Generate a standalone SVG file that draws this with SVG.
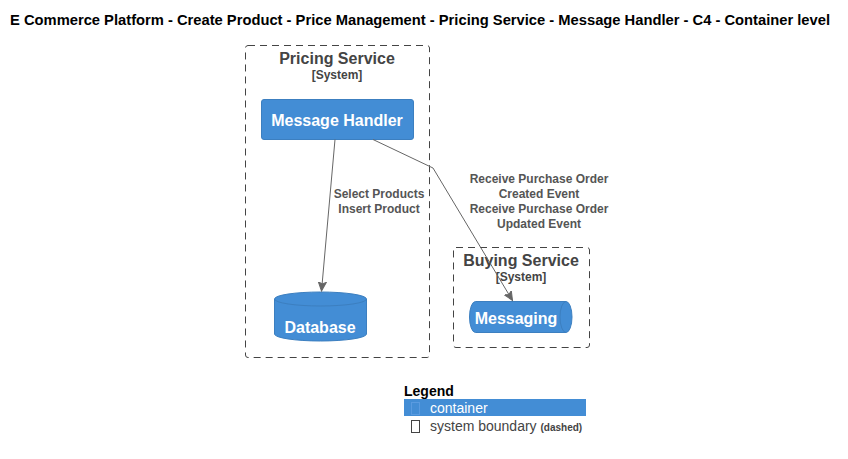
<svg xmlns="http://www.w3.org/2000/svg" width="848" height="459" viewBox="0 0 848 459">
<style>
text{font-family:"Liberation Sans",Arial,sans-serif}
.title{font-size:14px;font-weight:bold;fill:#000}
.bname{font-size:16px;font-weight:bold;fill:#444;text-anchor:middle}
.btype{font-size:12px;font-weight:bold;fill:#444;text-anchor:middle}
.boundary{fill:none;stroke:#444;stroke-width:1;stroke-dasharray:7,5}
.cont{fill:#438DD5;stroke:#3C7FC0;stroke-width:1}
.cname{font-size:16px;font-weight:bold;fill:#fff;text-anchor:middle}
.lbl{font-size:12px;font-weight:bold;fill:#555;text-anchor:middle}
.conn{fill:none;stroke:#666;stroke-width:1}
</style>
<defs>
<marker id="arr" markerWidth="10" markerHeight="10" refX="9" refY="5" orient="auto" markerUnits="userSpaceOnUse">
<path d="M0,1 L9,5 L0,9 L2,5 Z" fill="#666" stroke="#666"/>
</marker>
</defs>
<rect width="848" height="459" fill="#fff"/>
<text class="title" x="10" y="25" textLength="820" lengthAdjust="spacingAndGlyphs">E Commerce Platform - Create Product - Price Management - Pricing Service - Message Handler - C4 - Container level</text>

<g id="pricing-service">
<rect class="boundary" x="245.5" y="45.5" width="184" height="312" rx="2.5"/>
<text class="bname" x="337" y="64">Pricing Service</text>
<text class="btype" x="337" y="79">[System]</text>
</g>

<g id="message-handler">
<rect class="cont" x="261.5" y="99.5" width="152" height="40" rx="2.5"/>
<text class="cname" x="337" y="126">Message Handler</text>
</g>

<g id="database">
<path class="cont" d="M274.5,299 A46,7 0 0 1 366.5,299 L366.5,334 A46,7 0 0 1 274.5,334 Z"/>
<path d="M274.5,299 A46,7 0 0 0 366.5,299" fill="none" stroke="#3C7FC0"/>
<text class="cname" x="320" y="333">Database</text>
</g>

<g id="buying-service">
<rect class="boundary" x="453.5" y="247.5" width="136" height="100" rx="2.5"/>
<text class="bname" x="521" y="266">Buying Service</text>
<text class="btype" x="521" y="281">[System]</text>
</g>

<g id="messaging">
<path class="cont" d="M475.5,301.5 L566,301.5 A6,15.5 0 0 1 566,332.5 L475.5,332.5 A6,15.5 0 0 1 475.5,301.5 Z"/>
<path d="M566,301.5 A6,15.5 0 0 0 566,332.5" fill="none" stroke="#3C7FC0"/>
<text class="cname" x="516" y="324">Messaging</text>
</g>

<g id="connectors">
<path class="conn" d="M335,139.5 L321.5,291" marker-end="url(#arr)"/>
<text class="lbl" x="379" y="198">Select Products</text>
<text class="lbl" x="379" y="213">Insert Product</text>
<path class="conn" d="M373,139.5 L433,168 L512.5,300.5" marker-end="url(#arr)"/>
<text class="lbl" x="539" y="183">Receive Purchase Order</text>
<text class="lbl" x="539" y="198">Created Event</text>
<text class="lbl" x="539" y="213">Receive Purchase Order</text>
<text class="lbl" x="539" y="228">Updated Event</text>
</g>

<g id="legend">
<text x="404" y="396" style="font-size:14px;font-weight:bold;fill:#000">Legend</text>
<rect x="404" y="399" width="182" height="17" fill="#438DD5"/>
<rect x="411.5" y="402.5" width="8" height="12" fill="none" stroke="#5a9be0"/>
<text x="430" y="413" style="font-size:14px;fill:#fff">container</text>
<rect x="411.5" y="420.5" width="8" height="12" fill="none" stroke="#444"/>
<text x="430" y="431" style="font-size:14px;fill:#444">system boundary <tspan style="font-size:10px;font-weight:bold">(dashed)</tspan></text>
</g>
</svg>
